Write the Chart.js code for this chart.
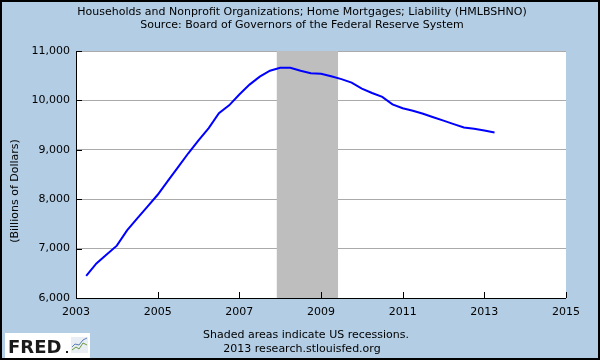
<!DOCTYPE html>
<html>
<head>
<meta charset="utf-8">
<script src="https://cdn.jsdelivr.net/npm/chart.js@4/dist/chart.umd.min.js"></script>
<style>
  html, body { margin: 0; padding: 0; background: #b3cde4; }
  #wrap { width: 600px; height: 360px; position: relative; }
  canvas { display: block; }
</style>
</head>
<body>
<div id="wrap"><canvas id="c" width="600" height="360"></canvas></div>
<script>
// ---- data ----
const titleLines = [
  'Households and Nonprofit Organizations; Home Mortgages; Liability (HMLBSHNO)',
  'Source: Board of Governors of the Federal Reserve System'
];
const yAxisTitle = '(Billions of Dollars)';
const footerLines = ['Shaded areas indicate US recessions.', '2013 research.stlouisfed.org'];

// quarter dates as decimal years
const quarterYears = [
  2003.25, 2003.5, 2003.75,
  2004.0, 2004.25, 2004.5, 2004.75,
  2005.0, 2005.25, 2005.5, 2005.75,
  2006.0, 2006.25, 2006.5, 2006.75,
  2007.0, 2007.25, 2007.5, 2007.75,
  2008.0, 2008.25, 2008.5, 2008.75,
  2009.0, 2009.25, 2009.5, 2009.75,
  2010.0, 2010.25, 2010.5, 2010.75,
  2011.0, 2011.25, 2011.5, 2011.75,
  2012.0, 2012.25, 2012.5, 2012.75,
  2013.0, 2013.25
];
const mortgageValues = [
  6450, 6700, 6880,
  7060, 7370, 7610, 7850,
  8090, 8370, 8650, 8930,
  9190, 9440, 9740, 9900,
  10120, 10320, 10480, 10600,
  10660, 10660, 10600, 10550,
  10540, 10490, 10430, 10360,
  10240, 10150, 10070, 9920,
  9840, 9790, 9730, 9660,
  9590, 9520, 9450, 9425,
  9390, 9350
];
const xTickValues = [2003, 2005, 2007, 2009, 2011, 2013, 2015];
const xTickLabels = ['2003', '2005', '2007', '2009', '2011', '2013', '2015'];
const yTickValues = [6000, 7000, 8000, 9000, 10000, 11000];
const yTickLabels = ['6,000', '7,000', '8,000', '9,000', '10,000', '11,000'];
const recessionStarts = [2007.917];
const recessionEnds = [2009.417];

// ---- chart ----
const FONT = '"DejaVu Sans", Verdana, sans-serif';

const decorPlugin = {
  id: 'decor',
  beforeDraw(chart) {
    const { ctx, chartArea: a } = chart;
    ctx.save();
    ctx.fillStyle = '#ffffff';
    ctx.fillRect(a.left, a.top, a.right - a.left, a.bottom - a.top);
    ctx.restore();
  },
  beforeDatasetsDraw(chart) {
    const { ctx, chartArea: a, scales: { x } } = chart;
    ctx.save();
    ctx.fillStyle = '#bebebe';
    for (let i = 0; i < recessionStarts.length; i++) {
      const x0 = x.getPixelForValue(recessionStarts[i]);
      const x1 = x.getPixelForValue(recessionEnds[i]);
      ctx.fillRect(x0, a.top, x1 - x0, a.bottom - a.top);
    }
    ctx.restore();
  },
  afterDraw(chart) {
    const { ctx, chartArea: a, scales: { x, y } } = chart;
    ctx.save();
    // axis lines
    ctx.strokeStyle = '#000';
    ctx.lineWidth = 1;
    ctx.beginPath();
    ctx.moveTo(a.left + 0.5, a.top);
    ctx.lineTo(a.left + 0.5, a.bottom + 0.5);
    ctx.lineTo(a.right, a.bottom + 0.5);
    ctx.stroke();
    // inward ticks
    ctx.beginPath();
    yTickValues.forEach(v => {
      const py = Math.round(y.getPixelForValue(v)) + 0.5;
      ctx.moveTo(a.left, py); ctx.lineTo(a.left + 6, py);
    });
    xTickValues.forEach(v => {
      const px = Math.round(x.getPixelForValue(v)) + 0.5;
      ctx.moveTo(px, a.bottom); ctx.lineTo(px, a.bottom - 6);
    });
    ctx.stroke();

    ctx.fillStyle = '#000';
    ctx.textAlign = 'center';
    ctx.textBaseline = 'middle';
    ctx.font = '11px ' + FONT;
    ctx.fillText(titleLines[0], 302, 12);
    ctx.fillText(titleLines[1], 302, 25);
    ctx.fillText(footerLines[0], 306, 335);
    ctx.fillText(footerLines[1], 302, 349);
    // y axis title
    ctx.save();
    ctx.translate(15, 191);
    ctx.rotate(-Math.PI / 2);
    ctx.fillText(yAxisTitle, 0, 0);
    ctx.restore();

    // FRED logo
    ctx.fillStyle = '#ffffff';
    ctx.fillRect(5, 333, 85, 26);
    ctx.fillStyle = '#1a1a1a';
    ctx.font = 'bold 18px ' + FONT;
    ctx.textAlign = 'left';
    ctx.textBaseline = 'alphabetic';
    ctx.fillText('FRED', 8, 353);
    ctx.fillRect(66, 351, 2, 2);
    // little chart icon
    ctx.fillStyle = '#e8eef4';
    ctx.fillRect(71, 337, 17, 16);
    ctx.lineWidth = 1;
    ctx.strokeStyle = '#6a9a3a';
    ctx.beginPath();
    ctx.moveTo(72, 350); ctx.lineTo(76, 347); ctx.lineTo(79, 349); ctx.lineTo(83, 343); ctx.lineTo(87, 345);
    ctx.stroke();
    ctx.strokeStyle = '#5a7fb5';
    ctx.beginPath();
    ctx.moveTo(72, 347); ctx.lineTo(75, 344); ctx.lineTo(79, 345); ctx.lineTo(83, 340); ctx.lineTo(87, 338);
    ctx.stroke();

    // outer border
    ctx.strokeStyle = '#000';
    ctx.lineWidth = 2;
    ctx.strokeRect(1, 1, 598, 358);
    ctx.restore();
  }
};

new Chart(document.getElementById('c'), {
  type: 'line',
  data: {
    datasets: [{
      data: quarterYears.map((t, i) => ({ x: t, y: mortgageValues[i] })),
      borderColor: '#0000ff',
      borderWidth: 2,
      pointRadius: 0,
      tension: 0,
      fill: false
    }]
  },
  options: {
    responsive: false,
    animation: false,
    devicePixelRatio: 1,
    layout: { padding: { left: 0, right: 34, top: 51, bottom: 0 } },
    plugins: { legend: { display: false }, tooltip: { enabled: false } },
    scales: {
      x: {
        type: 'linear',
        min: 2003, max: 2015,
        afterBuildTicks: s => { s.ticks = xTickValues.map(v => ({ value: v })); },
        afterFit: s => { s.height = 62; },
        grid: { display: false, drawTicks: false },
        border: { display: false },
        ticks: {
          color: '#000',
          font: { family: FONT, size: 11 },
          padding: 8,
          maxRotation: 0,
          autoSkip: false,
          callback: (v) => xTickLabels[xTickValues.indexOf(v)]
        }
      },
      y: {
        type: 'linear',
        min: 6000, max: 11000,
        afterBuildTicks: s => { s.ticks = yTickValues.map(v => ({ value: v })); },
        afterFit: s => { s.width = 76; },
        grid: { color: '#aaaaaa', lineWidth: 1, drawTicks: false },
        border: { display: false },
        ticks: {
          color: '#000',
          font: { family: FONT, size: 11 },
          padding: 6,
          callback: (v) => yTickLabels[yTickValues.indexOf(v)]
        }
      }
    }
  },
  plugins: [decorPlugin]
});
</script>
</body>
</html>
